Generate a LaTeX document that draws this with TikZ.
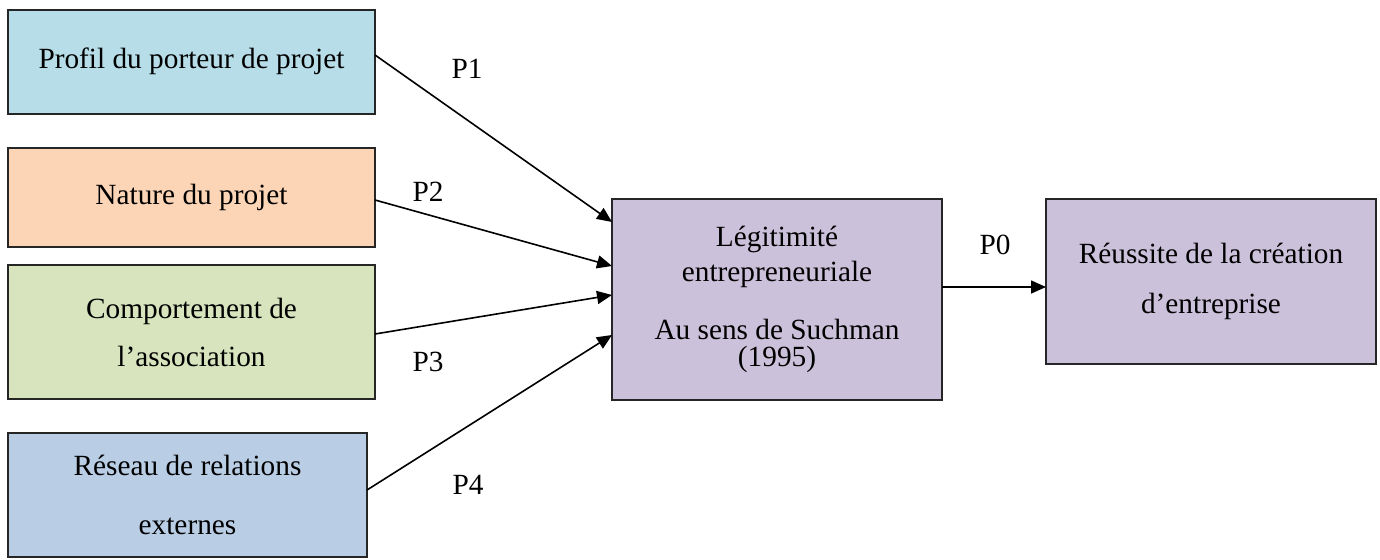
\documentclass[tikz,border=0pt]{standalone}
\usepackage{fontspec}
\setmainfont{Liberation Serif}
\usetikzlibrary{arrows.meta}
\definecolor{cprof}{HTML}{B7DDE8}
\definecolor{cnat}{HTML}{FBD5B5}
\definecolor{ccomp}{HTML}{D7E4BD}
\definecolor{cres}{HTML}{B9CDE5}
\definecolor{clav}{HTML}{CCC1DA}
\tikzset{
  boxnode/.style={draw=black!85, line width=1.2pt, inner sep=0pt, outer sep=0pt, align=center,
    font=\fontsize{29.3}{33}\selectfont},
  plabel/.style={inner sep=0pt, font=\fontsize{29.3}{33}\selectfont},
  conn/.style={line width=1.6pt, -{Triangle[length=15pt,width=13pt]}}
}
\begin{document}
\begin{tikzpicture}[x=1pt,y=-1pt]
\useasboundingbox (0,0) rectangle (1380,559);
\node[boxnode, fill=cprof, minimum width=367pt, minimum height=104pt] (prof) at (191.5,62) {\raisebox{7pt}{Profil du porteur de projet}};
\node[boxnode, fill=cnat, minimum width=367pt, minimum height=99pt] (nat) at (191.5,197.5) {Nature du projet};
\node[boxnode, fill=ccomp, minimum width=367pt, minimum height=134pt] (comp) at (191.5,332) {Comportement de\\[15pt]l’association};
\node[boxnode, fill=cres, minimum width=359pt, minimum height=124pt] (res) at (187.5,495) {Réseau de relations\\[26pt]externes};
\node[boxnode, fill=clav, minimum width=330pt, minimum height=201pt] (leg) at (777,299.5) {Légitimité\\[2pt]entrepreneuriale\\[25pt]Au sens de Suchman\\[-6pt](1995)};
\node[boxnode, fill=clav, minimum width=330pt, minimum height=165pt] (reu) at (1211,281.5) {Réussite de la création\\[17pt]d’entreprise};

\draw[conn] ([yshift=7pt]prof.east) -- ([yshift=77.5pt]leg.west);
\draw[conn] ([yshift=-2.5pt]nat.east) -- ([yshift=33.5pt]leg.west);
\draw[conn] ([yshift=-2pt]comp.east) -- ([yshift=4.5pt]leg.west);
\draw[conn] ([yshift=5pt]res.east) -- ([yshift=-35.5pt]leg.west);
\draw[conn] ([yshift=12.5pt]leg.east) -- ([yshift=-5.5pt]reu.west);

\node[plabel] (p1) at (467,69) {P1};
\node[plabel] (p2) at (428,192) {P2};
\node[plabel] (p3) at (428,362) {P3};
\node[plabel] (p4) at (468,485) {P4};
\node[plabel] (p0) at (995,245) {P0};
\end{tikzpicture}
\end{document}
